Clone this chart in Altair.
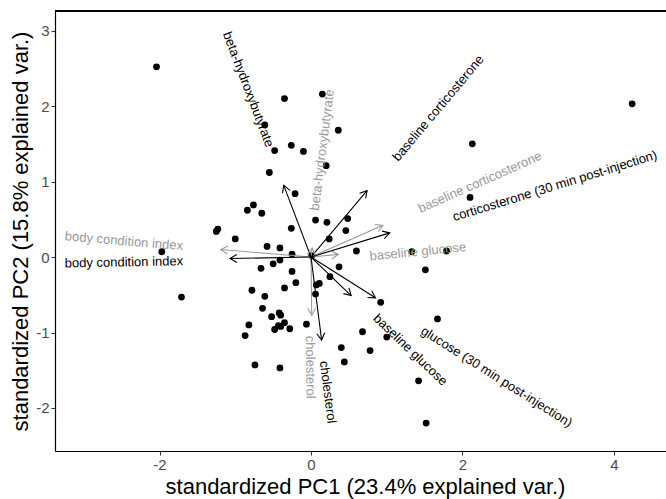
import math
import altair as alt
import pandas as pd

# ---- sample scores (standardized PC1, PC2) ----
pc1 = [-2.04, -0.35, 0.15, -0.61, -0.48, -0.26, -0.10, 0.20, -0.55, -0.21,
       -0.84, -0.76, -0.65, -1.25, -1.23, -1.00, -0.26, 0.06, 0.21, 0.24,
       -0.58, -0.41, 0.36, 2.13, 4.24, 2.10, 0.485, 0.46, 0.60, 1.33,
       1.79, -0.25, -0.41, -0.50, -0.66, -0.25, -0.20, -0.35, -0.78, -0.61,
       -0.64, -0.52, -0.42, -0.40, -0.82, -0.43, -0.35, -0.06, -0.40, -0.48,
       -0.28, -0.87, -0.74, -0.41, -1.97, -1.71, 0.07, 0.11, 0.06, 0.37,
       0.25, 0.92, 1.51, 1.67, 0.68, 1.00, 0.40, 0.78, 0.44, 1.42,
       1.52, 0.01]
pc2 = [2.52, 2.10, 2.16, 1.75, 1.41, 1.48, 1.40, 1.21, 1.12, 0.84,
       0.62, 0.69, 0.58, 0.34, 0.37, 0.24, 0.38, 0.49, 0.46, 0.24,
       0.14, 0.12, 1.68, 1.50, 2.03, 0.79, 0.51, 0.35, 0.08, 0.07,
       0.08, 0.04, -0.04, -0.09, -0.15, -0.19, -0.34, -0.41, -0.44, -0.52,
       -0.68, -0.79, -0.74, -0.77, -0.90, -0.91, -0.87, -0.89, -0.92, -0.96,
       -0.95, -1.04, -1.43, -1.47, 0.07, -0.53, -0.37, -0.35, -0.49, -0.13,
       -0.26, -0.60, -0.17, -0.82, -0.99, -1.06, -1.20, -1.24, -1.39, -1.64,
       -2.20, 0.02]

# ---- variable loadings (arrow tips) and label centres ----
black_names = ["beta-hydroxybutyrate", "baseline corticosterone",
               "corticosterone (30 min post-injection)", "body condition index",
               "baseline glucose", "glucose (30 min post-injection)", "cholesterol"]
black_x = [-0.36, 0.74, 1.04, -1.07, 0.53, 0.85, 0.14]
black_y = [0.95, 0.88, 0.32, -0.02, -0.51, -0.54, -1.10]
black_lx = [-0.83, 1.68, 3.22, -2.47, 1.31, 2.45, 0.22]
black_ly = [2.22, 1.97, 0.94, -0.07, -1.23, -1.59, -1.79]

gray_names = ["beta-hydroxybutyrate", "baseline corticosterone",
              "baseline glucose", "body condition index", "cholesterol"]
gray_x = [0.015, 0.95, 0.36, -1.19, 0.01]
gray_y = [0.12, 0.42, 0.035, 0.10, -0.77]
gray_lx = [0.15, 2.23, 1.41, -2.47, -0.01]
gray_ly = [1.42, 0.99, 0.07, 0.21, -1.46]

x_ticks = [-2, 0, 2, 4]
y_ticks = [-2, -1, 0, 1, 2, 3]

pts = pd.DataFrame({"pc1": pc1, "pc2": pc2})

rows = []
for grp, names, xs, ys, lxs, lys in [("gray", gray_names, gray_x, gray_y, gray_lx, gray_ly),
                                     ("black", black_names, black_x, black_y, black_lx, black_ly)]:
    for n, x, y, lx, ly in zip(names, xs, ys, lxs, lys):
        head = (-math.degrees(math.atan2(y, x))) % 360
        lab = (-math.degrees(math.atan(y / x))) % 360
        rows.append(dict(group=grp, name=n, x0=0.0, y0=0.0, x=x, y=y,
                         lx=lx, ly=ly, head=head, lab=lab))
arr = pd.DataFrame(rows)

xs = alt.Scale(domain=[-3.38, 4.687], nice=False, zero=False)
ys = alt.Scale(domain=[-2.57, 3.26], nice=False, zero=False)
col = alt.Scale(domain=["gray", "black"], range=["#999999", "#000000"])

lab_expr = "datum.value < 0 ? '-' + abs(datum.value) : '' + datum.value"

common = dict(grid=False, labelFontSize=15, labelColor="#4d4d4d",
              tickColor="#333333", tickSize=4, tickWidth=1, labelPadding=2,
              domainColor="#000000", domainWidth=1.2, labelExpr=lab_expr,
              titleFontSize=22, titleColor="#000000", titleFontWeight="normal",
              titleBaseline="alphabetic")

x_axis = alt.Axis(values=x_ticks, title="standardized PC1 (23.4% explained var.)",
                  titleX=310, titleY=42, **common)
y_axis = alt.Axis(values=y_ticks, title="standardized PC2 (15.8% explained var.)",
                  titleX=-28, titleY=220, **common)

points = alt.Chart(pts).mark_circle(size=46, color="#000000", opacity=1, clip=True).encode(
    x=alt.X("pc1:Q", scale=xs, axis=x_axis),
    y=alt.Y("pc2:Q", scale=ys, axis=y_axis),
)

lines = alt.Chart(arr).mark_rule(strokeWidth=1.1).encode(
    x=alt.X("x0:Q", scale=xs), y=alt.Y("y0:Q", scale=ys),
    x2="x:Q", y2="y:Q",
    color=alt.Color("group:N", scale=col, legend=None),
)

heads = alt.Chart(arr).mark_point(shape="M-1,-0.577L0,0L-1,0.577", filled=False,
                                  size=190, strokeWidth=1.1, opacity=1).encode(
    x=alt.X("x:Q", scale=xs), y=alt.Y("y:Q", scale=ys),
    angle=alt.Angle("head:Q", scale=None),
    color=alt.Color("group:N", scale=col, legend=None),
)

labels = alt.Chart(arr).mark_text(fontSize=13, align="center", baseline="middle",
                                  font="Liberation Sans", clip=True).encode(
    x=alt.X("lx:Q", scale=xs), y=alt.Y("ly:Q", scale=ys),
    text="name:N",
    angle=alt.Angle("lab:Q", scale=None),
    color=alt.Color("group:N", scale=col, legend=None),
)

top = alt.Chart(pts).mark_rule(color="#000000", strokeWidth=1.2).encode(
    x=alt.value(0), x2=alt.value(611), y=alt.value(0)
)

chart = alt.layer(points, lines, heads, labels, top).properties(
    width=611, height=440,
    autosize=alt.AutoSizeParams(type="none"),
    padding={"left": 55, "top": 11, "right": 0, "bottom": 48},
    background="white",
).configure_view(stroke=None).configure(font="Liberation Sans")

chart.save("out.html", embed_options={"renderer": "svg", "actions": False})
